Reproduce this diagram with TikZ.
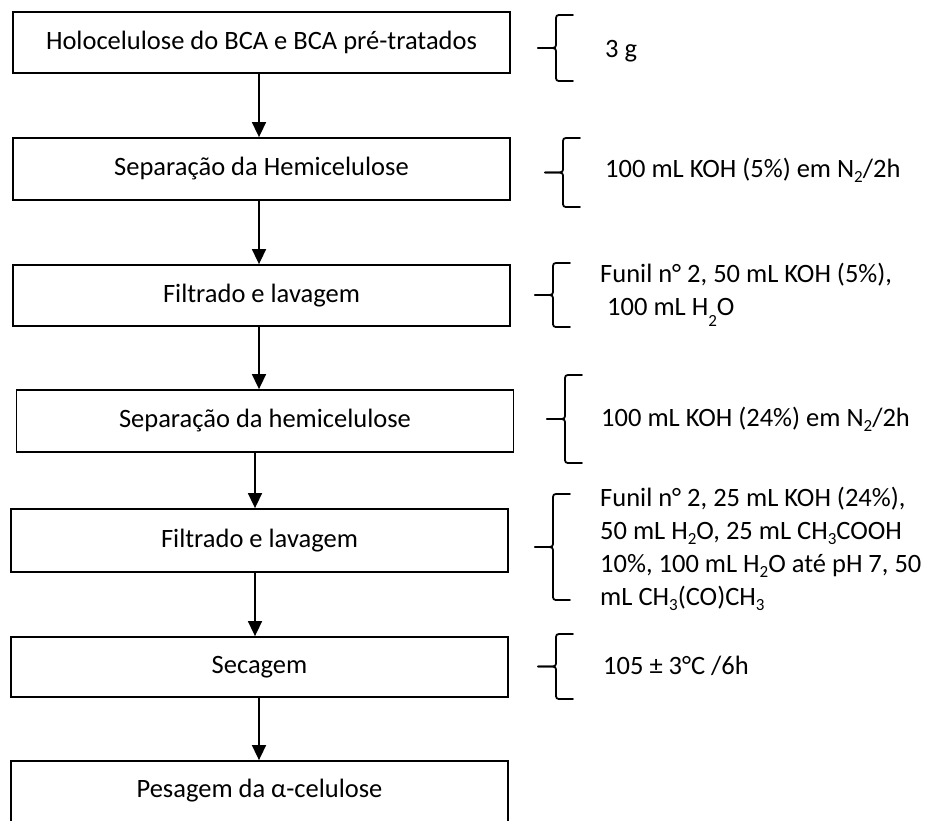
\documentclass[tikz,border=0pt]{standalone}
\usepackage{fontspec}
\setmainfont{Carlito}
\usetikzlibrary{arrows.meta}

% lowered index (chemical subscripts)
\newcommand\lowidx[1]{\raisebox{-0.22em}{\fontsize{17}{17}\selectfont #1}}
% left curly brace: #1 = x of the tip, #2 = top y, #3 = bottom y
\newcommand\drawbrace[3]{%
  \draw[bracestyle] ({#1+35},#2) -- ({#1+24},#2) .. controls ({#1+18},#2) .. ({#1+18},{#2+6})
    -- ({#1+18},{(#2+#3)/2-6}) .. controls ({#1+18},{(#2+#3)/2}) .. ({#1+11},{(#2+#3)/2})
    -- (#1,{(#2+#3)/2});
  \draw[bracestyle] (#1,{(#2+#3)/2}) -- ({#1+11},{(#2+#3)/2})
    .. controls ({#1+18},{(#2+#3)/2}) .. ({#1+18},{(#2+#3)/2+6})
    -- ({#1+18},{#3-6}) .. controls ({#1+18},#3) .. ({#1+24},#3) -- ({#1+35},#3);}

\begin{document}
\begin{tikzpicture}[x=1pt,y=-1pt,
  font=\fontsize{26.5}{33}\selectfont,
  stepbox/.style={draw=black, line width=1.8pt, inner sep=0pt,
    minimum width=497pt, align=center},
  note/.style={anchor=base west, inner sep=0pt},
  arr/.style={line width=1.6pt, -{Triangle[length=15pt,width=14pt]}},
  bracestyle/.style={line width=1.8pt, line cap=round, line join=round}]

\fill[white] (0,0) rectangle (926,820);
\useasboundingbox (0,0) rectangle (926,820);

% process steps
\node[stepbox, minimum height=61pt] (b1) at (261.5,42.5) {Holocelulose do BCA e BCA pré-tratados};
\node[stepbox, minimum height=62pt] (b2) at (261.5,169) {Separação da Hemicelulose};
\node[stepbox, minimum height=61pt] (b3) at (261.5,295.5) {Filtrado e lavagem};
\node[stepbox, minimum height=62pt] (b4) at (265,421) {Separação da hemicelulose};
\node[stepbox, minimum height=63pt] (b5) at (259.5,540.5) {Filtrado e lavagem};
\node[stepbox, minimum height=60pt] (b6) at (259.5,667) {Secagem};
\node[stepbox, minimum height=67pt, text height=18pt, text depth=13pt] (b7) at (259.5,794.5) {Pesagem da α-celulose};

% flow arrows
\draw[arr] ([xshift=-2.5pt]b1.south) -- ([xshift=-2.5pt]b1.south |- b2.north);
\draw[arr] ([xshift=-2.5pt]b2.south) -- ([xshift=-2.5pt]b2.south |- b3.north);
\draw[arr] ([xshift=-2.5pt]b3.south) -- ([xshift=-2.5pt]b3.south |- b4.north);
\draw[arr] ([xshift=-10pt]b4.south) -- ([xshift=-10pt]b4.south |- b5.north);
\draw[arr] ([xshift=-4.5pt]b5.south) -- ([xshift=-4.5pt]b5.south |- b6.north);
\draw[arr] ([xshift=-0.5pt]b6.south) -- ([xshift=-0.5pt]b6.south |- b7.north);

% conditions of each step
\drawbrace{538}{15}{81}
\node[note] (n1) at (605,57) {3 g};

\drawbrace{545}{138}{207}
\node[note] (n2) at (605,177) {100 mL KOH (5\%) em N\lowidx{2}/2h};

\drawbrace{535}{263}{327}
\node[note] (n3a) at (600,282) {Funil n° 2, 50 mL KOH (5\%),};
\node[note] (n3b) at (607,315) {100 mL H\raisebox{-0.45em}{\fontsize{17}{17}\selectfont 2}O};

\drawbrace{547}{375}{463}
\node[note] (n4) at (601,426) {100 mL KOH (24\%) em N\lowidx{2}/2h};

\drawbrace{535}{494}{600}
\node[note] (n5a) at (600,506) {Funil n° 2, 25 mL KOH (24\%),};
\node[note] (n5b) at (600,539) {50 mL H\lowidx{2}O, 25 mL CH\lowidx{3}COOH};
\node[note] (n5c) at (600,572) {10\%, 100 mL H\lowidx{2}O até pH 7, 50};
\node[note] (n5d) at (600,605) {mL CH\lowidx{3}(CO)CH\lowidx{3}};

\drawbrace{538}{634}{699}
\node[note] (n6) at (603,674) {105 ± 3°C /6h};
\end{tikzpicture}
\end{document}
